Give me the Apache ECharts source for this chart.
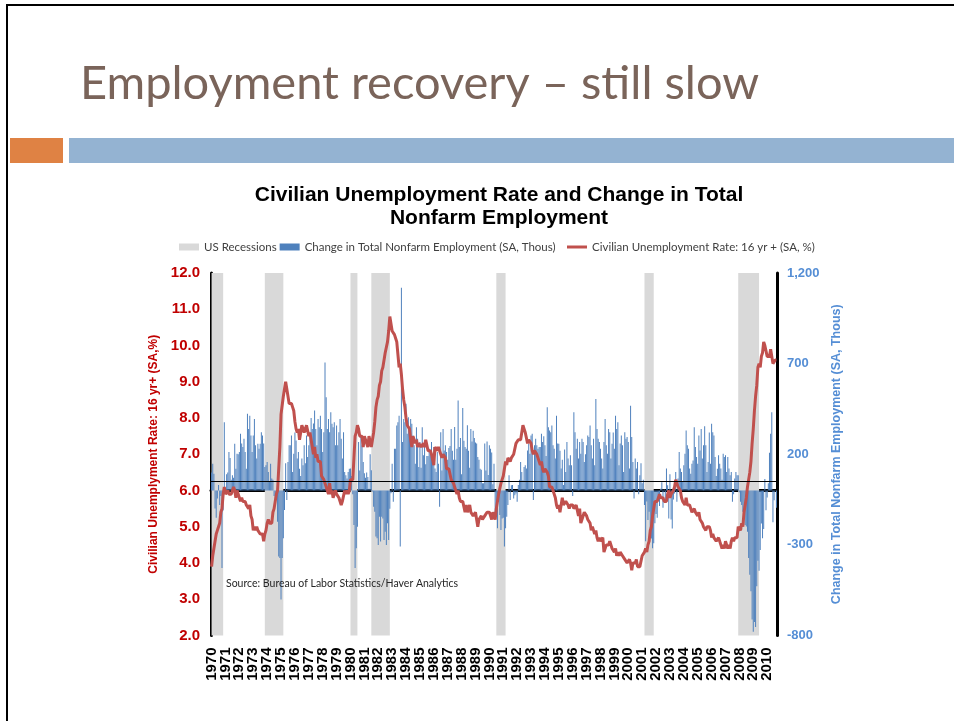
<!DOCTYPE html>
<html><head><meta charset="utf-8">
<script src="https://cdn.jsdelivr.net/npm/echarts@6/dist/echarts.min.js"></script>
<style>html,body{margin:0;padding:0;background:#fff}#c{width:954px;height:721px}</style>
</head><body><div id="c"></div>
<script>
// ---------------- DATA ----------------
const startYear = 1970;

// Civilian Unemployment Rate: 16 yr + (SA, %), monthly Jan 1970 - Sep 2010
const unemploymentRate = [
  3.9,4.2,4.4,4.6,4.8,4.9,5.0,5.1,5.4,5.5,5.9,6.1,        // 1970
  5.9,5.9,6.0,5.9,5.9,5.9,6.0,6.1,6.0,5.8,6.0,6.0,        // 1971
  5.8,5.7,5.8,5.7,5.7,5.7,5.6,5.6,5.5,5.6,5.3,5.2,        // 1972
  4.9,5.0,4.9,5.0,4.9,4.9,4.8,4.8,4.8,4.6,4.8,4.9,        // 1973
  5.1,5.2,5.1,5.1,5.1,5.4,5.5,5.5,5.9,6.0,6.6,7.2,        // 1974
  8.1,8.1,8.6,8.8,9.0,8.8,8.6,8.4,8.4,8.4,8.3,8.2,        // 1975
  7.9,7.7,7.6,7.7,7.4,7.6,7.8,7.8,7.6,7.7,7.8,7.8,        // 1976
  7.5,7.6,7.4,7.2,7.0,7.2,6.9,7.0,6.8,6.8,6.8,6.4,        // 1977
  6.4,6.3,6.3,6.1,6.0,5.9,6.2,5.9,6.0,5.8,5.9,6.0,        // 1978
  5.9,5.9,5.8,5.8,5.6,5.7,5.7,6.0,5.9,6.0,5.9,6.0,        // 1979
  6.3,6.3,6.3,6.9,7.5,7.6,7.8,7.7,7.5,7.5,7.5,7.2,        // 1980
  7.5,7.4,7.4,7.2,7.5,7.5,7.2,7.4,7.6,7.9,8.3,8.5,        // 1981
  8.6,8.9,9.0,9.3,9.4,9.6,9.8,9.8,10.1,10.4,10.8,10.8,    // 1982
  10.4,10.4,10.3,10.2,10.1,10.1,9.4,9.5,9.2,8.8,8.5,8.3,  // 1983
  8.0,7.8,7.8,7.7,7.4,7.2,7.5,7.5,7.3,7.4,7.2,7.3,        // 1984
  7.3,7.2,7.2,7.3,7.2,7.4,7.4,7.1,7.1,7.1,7.0,7.0,        // 1985
  6.7,7.2,7.2,7.1,7.2,7.2,7.0,6.9,7.0,7.0,6.9,6.6,        // 1986
  6.6,6.6,6.6,6.3,6.3,6.2,6.1,6.0,5.9,6.0,5.8,5.7,        // 1987
  5.7,5.7,5.7,5.4,5.6,5.4,5.4,5.6,5.4,5.4,5.3,5.3,        // 1988
  5.4,5.2,5.0,5.2,5.2,5.3,5.2,5.2,5.3,5.3,5.4,5.4,        // 1989
  5.4,5.3,5.2,5.4,5.4,5.2,5.5,5.7,5.9,5.9,6.2,6.3,        // 1990
  6.4,6.6,6.8,6.7,6.9,6.9,6.8,6.9,6.9,7.0,7.0,7.3,        // 1991
  7.3,7.4,7.4,7.4,7.6,7.8,7.7,7.6,7.6,7.3,7.4,7.4,        // 1992
  7.3,7.1,7.0,7.1,7.1,7.0,6.9,6.8,6.7,6.8,6.6,6.5,        // 1993
  6.6,6.6,6.5,6.4,6.1,6.1,6.1,6.0,5.9,5.8,5.6,5.5,        // 1994
  5.6,5.4,5.4,5.8,5.6,5.6,5.7,5.7,5.6,5.5,5.6,5.6,        // 1995
  5.6,5.5,5.5,5.6,5.6,5.3,5.5,5.1,5.2,5.2,5.4,5.4,        // 1996
  5.3,5.2,5.2,5.1,4.9,5.0,4.9,4.8,4.9,4.7,4.6,4.7,        // 1997
  4.6,4.6,4.7,4.3,4.4,4.5,4.5,4.5,4.6,4.5,4.4,4.4,        // 1998
  4.3,4.4,4.2,4.3,4.2,4.3,4.3,4.2,4.2,4.1,4.1,4.0,        // 1999
  4.0,4.1,4.0,3.8,4.0,4.0,4.0,4.1,3.9,3.9,3.9,3.9,        // 2000
  4.2,4.2,4.3,4.4,4.3,4.5,4.6,4.9,5.0,5.3,5.5,5.7,        // 2001
  5.7,5.7,5.7,5.9,5.8,5.8,5.8,5.7,5.7,5.7,5.9,6.0,        // 2002
  5.8,5.9,5.9,6.0,6.1,6.3,6.2,6.1,6.1,6.0,5.8,5.7,        // 2003
  5.7,5.6,5.8,5.6,5.6,5.6,5.5,5.4,5.4,5.5,5.4,5.4,        // 2004
  5.3,5.4,5.2,5.2,5.1,5.0,5.0,4.9,5.0,5.0,5.0,4.9,        // 2005
  4.7,4.8,4.7,4.7,4.6,4.6,4.7,4.7,4.5,4.4,4.5,4.4,        // 2006
  4.6,4.5,4.4,4.5,4.4,4.6,4.7,4.6,4.7,4.7,4.7,5.0,        // 2007
  5.0,4.9,5.1,5.0,5.4,5.6,5.8,6.1,6.1,6.5,6.8,7.3,        // 2008
  7.7,8.2,8.6,8.9,9.4,9.5,9.4,9.7,9.8,10.1,10.0,10.0,     // 2009
  9.7,9.7,9.7,9.9,9.7,9.5,9.5,9.6,9.6                     // 2010
];

// Change in Total Nonfarm Employment (SA, Thous), monthly Jan 1970 - Sep 2010
const payrollChange = [
  100,148,93,-99,-150,-44,30,-80,-30,-428,-110,377,           // 1970
  -16,90,100,212,180,60,84,70,258,120,203,200,                // 1971
  212,313,260,240,285,212,120,423,340,413,304,212,            // 1972
  304,395,249,176,258,230,258,322,304,260,130,140,            // 1973
  157,102,48,148,66,60,-30,-80,-44,-172,-364,-373,            // 1974
  -602,-373,-263,-108,150,-53,157,249,249,304,102,203,        // 1975
  320,276,176,212,120,80,176,140,249,150,304,185,             // 1976
  249,300,400,340,370,441,340,249,395,349,413,340,            // 1977
  212,322,706,514,340,395,322,432,368,349,377,249,            // 1978
  359,249,322,395,285,176,322,102,84,66,102,120,              // 1979
  121,80,-20,-190,-428,-318,-200,267,110,304,249,157,         // 1980
  95,70,100,75,10,200,112,-5,-90,-117,-254,-263,              // 1981
  -300,-145,-282,-145,-154,-273,-227,-300,-180,-273,-100,-15, // 1982
  148,-62,230,230,359,377,413,-309,1118,267,395,377,          // 1983
  478,313,404,349,395,368,304,249,148,349,285,130,            // 1984
  267,125,349,195,275,145,190,190,230,203,267,170,            // 1985
  240,121,102,212,148,-90,321,110,340,221,249,212,            // 1986
  170,235,245,340,220,170,350,170,230,496,240,290,            // 1987
  90,455,275,240,230,360,220,125,340,270,330,290,             // 1988
  265,260,185,170,120,115,40,40,260,110,270,85,               // 1989
  250,230,210,35,148,-154,-90,-208,-62,-135,-218,-154,        // 1990
  -150,-309,-208,-145,-80,84,-53,29,30,-44,-26,-16,           // 1991
  -62,30,60,157,102,57,130,139,121,221,258,203,               // 1992
  304,313,-53,249,285,249,230,240,240,313,267,300,            // 1993
  249,190,459,349,331,322,359,249,230,176,413,260,            // 1994
  258,220,121,170,30,226,102,267,176,139,194,139,             // 1995
  -30,432,322,230,285,176,267,203,285,267,157,200,            // 1996
  249,304,295,359,249,176,285,139,505,340,285,267,            // 1997
  230,176,121,267,395,249,203,340,322,176,258,320,            // 1998
  230,413,340,377,139,260,304,249,102,322,285,295,            // 1999
  267,121,468,295,157,-44,176,121,157,-20,84,150,             // 2000
  40,60,-80,-280,-60,-163,-117,-208,-265,-318,-291,-180,      // 2001
  -130,-150,-25,-85,10,45,-95,5,-60,121,29,-154,              // 2002
  90,-160,-210,-50,-16,102,-62,66,212,121,102,48,             // 2003
  139,203,331,249,230,121,93,148,166,349,240,185,             // 2004
  148,304,221,340,176,249,355,249,102,157,320,148,            // 2005
  368,322,304,185,80,120,194,148,121,60,203,185,              // 2006
  194,102,185,121,84,102,-62,-20,66,102,84,84,                // 2007
  -10,-62,-80,-117,-135,-190,-199,-227,-373,-465,-556,-712,   // 2008
  -779,-726,-753,-528,-387,-443,-328,-182,-263,-213,64,-109,  // 2009
  -39,40,208,313,432,-175,-54,-1,-95                          // 2010
];

// US recessions (NBER), first and last month
const recessions = [
  ['1970-01','1970-11'], ['1973-11','1975-03'], ['1980-01','1980-07'],
  ['1981-07','1982-11'], ['1990-07','1991-03'], ['2001-03','2001-11'],
  ['2007-12','2009-06']
];

const rightTicks = [-800, -300, 200, 700, 1200];
const refLineValue = 50; // horizontal black reference line (right-axis units)

// ---------------- CHART ----------------
const months = unemploymentRate.map((_, i) =>
  (startYear + Math.floor(i / 12)) + '-' + String(i % 12 + 1).padStart(2, '0'));

const recName = 'US Recessions';
const empName = 'Change in Total Nonfarm Employment (SA, Thous)';
const urName = 'Civilian Unemployment Rate: 16 yr + (SA, %)';

const legendText = {fontFamily: 'Lato', fontSize: 11.5, color: '#404040'};

const chart = echarts.init(document.getElementById('c'), null, {renderer: 'canvas'});
chart.setOption({
  animation: false,
  backgroundColor: '#ffffff',
  title: {
    text: 'Civilian Unemployment Rate and Change in Total\nNonfarm Employment',
    left: 494, top: 179, textAlign: 'center',
    textStyle: {fontFamily: 'Liberation Sans', fontWeight: 'bold', fontSize: 21, lineHeight: 23, color: '#000'}
  },
  legend: [
    {
      left: 179, top: 241, padding: 0, itemWidth: 20, itemHeight: 7, itemGap: 3,
      textStyle: legendText,
      data: [{name: recName, icon: 'rect'}, {name: empName, icon: 'rect'}]
    },
    {
      left: 567, top: 241, padding: 0, itemWidth: 20, itemHeight: 3, itemGap: 3,
      textStyle: legendText,
      data: [{name: urName, icon: 'rect'}]
    }
  ],
  grid: {left: 211, right: 177, top: 273, bottom: 85.5},
  xAxis: {
    type: 'category', data: months, boundaryGap: true,
    axisLine: {lineStyle: {color: '#000', width: 3}},
    axisTick: {show: false},
    axisLabel: {
      interval: 0, rotate: 90, margin: 12, showMinLabel: true, showMaxLabel: true, hideOverlap: false,
      fontFamily: 'Liberation Sans', fontWeight: 'bold', fontSize: 15, color: '#000',
      formatter: v => (v.endsWith('-01') ? v.slice(0, 4) : '')
    }
  },
  yAxis: [
    {
      type: 'value', position: 'left', min: 2, max: 12, interval: 1,
      splitLine: {show: false}, axisTick: {show: false},
      axisLine: {show: true, lineStyle: {color: '#000', width: 3}},
      axisLabel: {margin: 11, fontFamily: 'Liberation Sans', fontWeight: 'bold', fontSize: 15, color: '#C00000',
        formatter: v => v.toFixed(1)},
      name: 'Civilian Unemplyment Rate: 16 yr+ (SA,%)', nameLocation: 'middle', nameRotate: 90, nameGap: 50,
      nameTextStyle: {fontFamily: 'Liberation Sans', fontWeight: 'bold', fontSize: 12, color: '#C00000'}
    },
    {
      type: 'value', position: 'right', min: -800, max: 1200,
      splitLine: {show: false}, axisTick: {show: false},
      axisLine: {show: true, lineStyle: {color: '#000', width: 3}},
      axisLabel: {margin: 10, customValues: rightTicks, fontFamily: 'Liberation Sans', fontWeight: 'bold', fontSize: 13,
        color: '#558ED5', formatter: v => Number(v).toLocaleString('en-US')},
      name: 'Change in Total Nonfarm Employment (SA, Thous)', nameLocation: 'middle', nameRotate: 90, nameGap: 52,
      nameTextStyle: {fontFamily: 'Liberation Sans', fontWeight: 'bold', fontSize: 12.5, color: '#558ED5'}
    }
  ],
  series: [
    {
      name: recName, type: 'line', data: [], color: '#D9D9D9', z: 1,
      itemStyle: {color: '#D9D9D9'},
      markArea: {
        silent: true, itemStyle: {color: '#D9D9D9'},
        data: recessions.map(r => [{xAxis: r[0]}, {xAxis: r[1]}])
      }
    },
    {
      name: empName, type: 'bar', yAxisIndex: 1, data: payrollChange, z: 2,
      itemStyle: {color: '#4F81BD'}, barWidth: '55%',
      markLine: {
        silent: true, symbol: 'none', label: {show: false},
        lineStyle: {color: '#000', width: 1, type: 'solid'},
        data: [{yAxis: refLineValue}]
      }
    },
    {
      name: urName, type: 'line', yAxisIndex: 0, data: unemploymentRate, z: 4,
      symbol: 'none', color: '#C0504D',
      lineStyle: {color: '#C0504D', width: 3}
    }
  ],
  graphic: [
    {type: 'rect', silent: true, z: 100, shape: {x: 7, y: 5, width: 980, height: 740},
      style: {fill: 'none', stroke: '#000', lineWidth: 2}},
    {type: 'rect', silent: true, shape: {x: 10, y: 138, width: 53, height: 25}, style: {fill: '#DF8244'}},
    {type: 'rect', silent: true, shape: {x: 69, y: 138, width: 890, height: 25}, style: {fill: '#94B3D2'}},
    {type: 'text', silent: true, x: 80, y: 84,
      style: {text: 'Employment recovery \u2013 still slow', font: '47px Lato', fill: '#7A645A', verticalAlign: 'middle'}},
    {type: 'text', silent: true, z: 100, x: 226, y: 584,
      style: {text: 'Source: Bureau of Labor Statistics/Haver Analytics', font: '10.5px Lato', fill: '#262626', verticalAlign: 'middle'}}
  ]
});
</script>
</body></html>
